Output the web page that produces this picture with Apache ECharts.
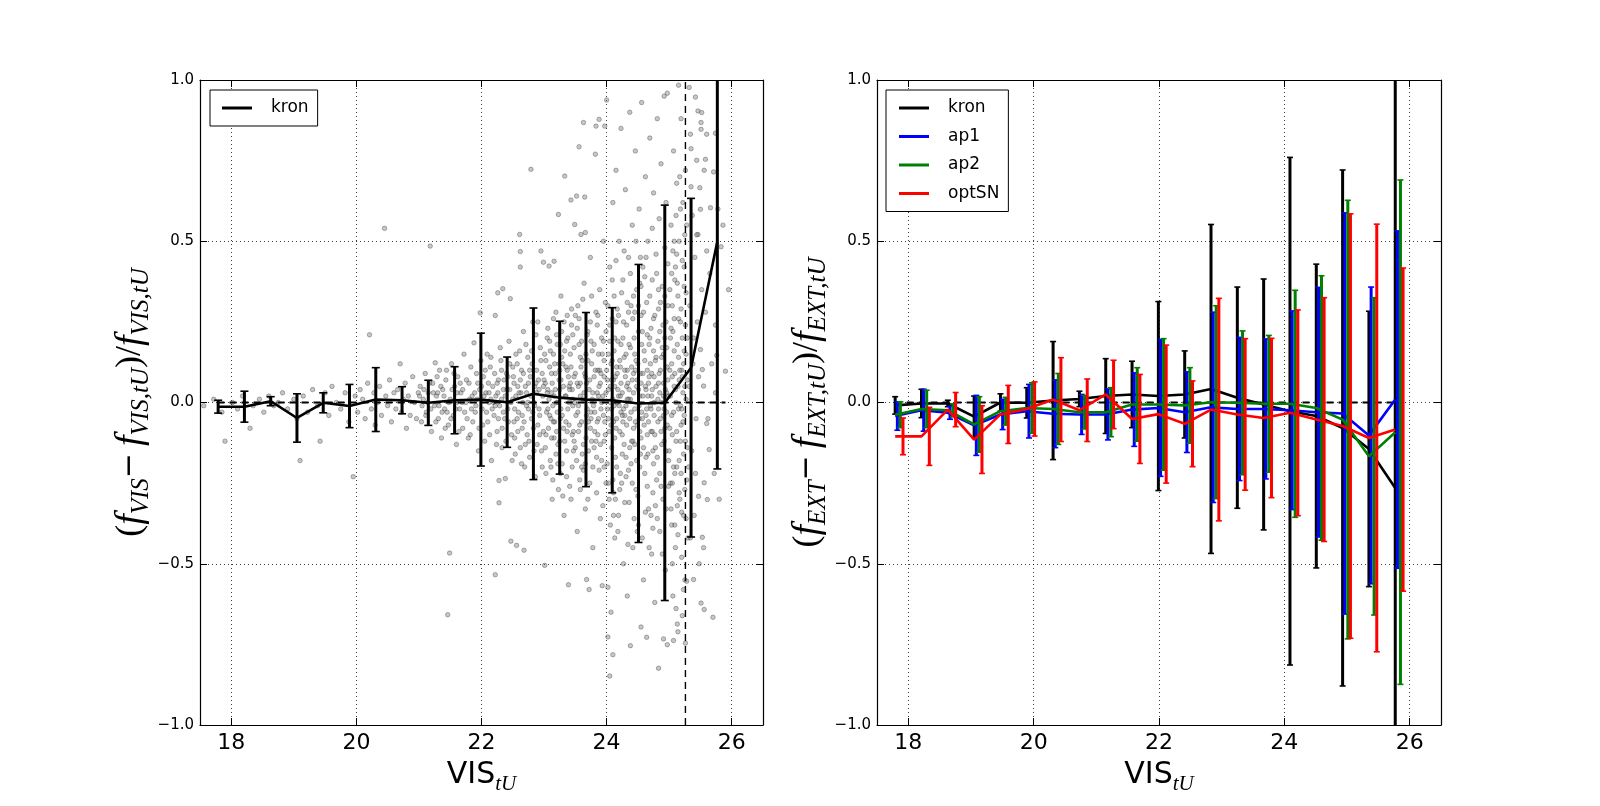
<!DOCTYPE html>
<html>
<head>
<meta charset="utf-8">
<script src="https://cdn.jsdelivr.net/npm/echarts@6/dist/echarts.min.js"></script>
<style>
  html, body { margin: 0; padding: 0; background: #fff; }
  #main { width: 1600px; height: 806px; }
</style>
</head>
<body>
<div id="main"></div>
<script>
// bin centres (VIS_tU magnitude)
const binX = [17.79, 18.21, 18.63, 19.05, 19.47, 19.89, 20.31, 20.73, 21.15, 21.57,
  21.99, 22.41, 22.83, 23.25, 23.67, 24.09, 24.51, 24.93, 25.35, 25.77];

// left panel: VIS kron
const visMean = [-0.013, -0.013, 0.004, -0.048, -0.001, -0.011, 0.009, 0.007, -0.001, 0.007,
  0.009, 0.001, 0.027, 0.015, 0.009, 0.007, -0.003, -0.001, 0.108, 0.499];
const visErr = [0.02, 0.048, 0.014, 0.075, 0.031, 0.067, 0.099, 0.042, 0.07, 0.104,
  0.206, 0.14, 0.266, 0.237, 0.27, 0.287, 0.431, 0.613, 0.525, 0.705];

// right panel: EXT
const kronMean = [-0.009, -0.003, -0.003, -0.044, 0.0, -0.001, 0.006, 0.011, 0.02, 0.025,
  0.02, 0.025, 0.042, 0.015, -0.006, -0.027, -0.042, -0.079, -0.144, -0.265];
const kronErr = [0.027, 0.044, 0.01, 0.064, 0.027, 0.047, 0.183, 0.024, 0.116, 0.103,
  0.293, 0.135, 0.51, 0.343, 0.389, 0.787, 0.471, 0.8, 0.427, 1.3];
const ap1Mean = [-0.042, -0.024, -0.032, -0.071, -0.037, -0.027, -0.035, -0.037, -0.037, -0.022,
  -0.017, -0.03, -0.015, -0.02, -0.02, -0.024, -0.03, -0.034, -0.102, 0.009];
const ap1Err = [0.044, 0.065, 0.02, 0.093, 0.047, 0.083, 0.105, 0.062, 0.079, 0.114,
  0.212, 0.125, 0.295, 0.222, 0.217, 0.308, 0.387, 0.622, 0.46, 0.523];
const ap2Mean = [-0.038, -0.02, -0.024, -0.068, -0.027, -0.017, -0.02, -0.03, -0.03, -0.006,
  -0.006, -0.009, 0.001, -0.001, -0.004, -0.004, -0.017, -0.053, -0.167, -0.092];
const ap2Err = [0.04, 0.058, 0.02, 0.086, 0.043, 0.078, 0.11, 0.052, 0.076, 0.114,
  0.204, 0.117, 0.299, 0.223, 0.212, 0.352, 0.41, 0.68, 0.492, 0.782];
const optMean = [-0.105, -0.105, -0.022, -0.115, -0.037, -0.02, 0.009, -0.024, 0.025, -0.051,
  -0.036, -0.066, -0.022, -0.037, -0.048, -0.032, -0.053, -0.073, -0.11, -0.084];
const optErr = [0.057, 0.09, 0.053, 0.105, 0.09, 0.084, 0.13, 0.097, 0.106, 0.138,
  0.214, 0.133, 0.345, 0.235, 0.247, 0.319, 0.378, 0.658, 0.663, 0.501];

const xTicks = [18, 20, 22, 24, 26];
const zeroLineX = [17.78, 25.9];
const cutMag = 25.26;

// individual objects (outskirts)
const visScatter = [
  [17.56,-0.01],[17.72,0.01],[17.85,-0.03],[17.9,-0.12],[18.02,0.0],[18.1,-0.02],[18.18,0.02],[18.3,-0.08],
  [18.35,-0.01],[18.45,0.01],[18.52,-0.03],[18.6,0.02],[18.68,-0.01],[18.75,0.0],[18.82,0.03],[18.9,-0.02],
  [19.0,0.01],[19.05,-0.05],[19.1,-0.18],[19.15,0.02],[19.22,-0.03],[19.3,0.04],[19.38,-0.01],[19.42,-0.12],
  [19.5,0.03],[19.56,-0.04],[19.61,0.05],[19.68,0.0],[19.75,-0.02],[19.82,0.03],[19.88,-0.06],[19.95,-0.23],[19.98,0.02],
  [20.02,-0.03],[20.06,0.04],[20.1,0.01],[20.14,-0.05],[20.18,0.06],[20.21,0.21],[20.24,-0.02],[20.28,0.03],
  [20.3,-0.07],[20.34,0.0],[20.37,0.05],[20.4,-0.04],[20.45,0.54],[20.47,0.02],[20.5,-0.01],[20.53,0.07],
  [20.56,-0.06],[20.6,0.03],[20.63,-0.02],[20.66,0.04],[20.7,0.12],[20.72,-0.03],[20.75,0.01],[20.78,0.06],
  [20.8,-0.08],[20.83,0.02],[20.86,-0.04],[20.9,0.08],[20.93,0.0],[20.96,-0.05],[20.99,0.03],
  [21.02,0.05],[21.04,-0.06],[21.07,0.01],[21.1,0.09],[21.12,-0.03],[21.15,0.03],[21.18,0.485],[21.2,-0.09],
  [21.22,0.06],[21.25,-0.01],[21.26,0.123],[21.28,0.02],[21.31,-0.05],[21.33,0.1],[21.36,-0.11],[21.38,0.04],
  [21.41,-0.02],[21.43,0.07],[21.46,-0.658],[21.47,-0.07],[21.49,-0.467],[21.5,0.01],[21.52,0.12],[21.55,-0.04],
  [21.57,0.05],[21.6,-0.13],[21.62,0.08],[21.65,-0.02],[21.67,0.03],[21.7,-0.08],[21.72,0.15],[21.75,0.0],
  [21.77,-0.05],[21.8,0.06],[21.82,-0.1],[21.85,0.02],[21.88,0.185],[21.9,-0.03],[21.92,0.09],[21.95,-0.15],
  [21.97,0.04],[21.98,0.278],[21.3,0.03],[21.45,-0.03],[21.6,0.0],[21.7,0.04],[21.84,-0.02],[21.93,0.01],
  [22.01,-0.02],[22.03,0.08],[22.05,-0.12],[22.07,0.03],[22.09,0.15],[22.1,-0.06],[22.12,0.0],[22.14,0.11],
  [22.16,-0.18],[22.18,0.05],[22.2,-0.04],[22.22,0.27],[22.22,-0.534],[22.23,0.02],[22.25,-0.09],[22.26,0.34],
  [22.27,0.07],[22.28,-0.311],[22.28,-0.242],[22.29,-0.01],[22.31,0.13],[22.33,-0.14],[22.34,0.353],[22.35,0.04],
  [22.37,-0.05],[22.38,-0.236],[22.4,0.09],[22.42,-0.02],[22.44,0.19],[22.46,0.322],[22.47,-0.43],[22.48,-0.1],
  [22.5,0.01],[22.52,0.06],[22.54,-0.16],[22.56,-0.443],[22.57,0.12],[22.59,-0.03],[22.61,0.521],[22.62,0.468],
  [22.62,0.42],[22.63,0.03],[22.65,-0.08],[22.67,0.22],[22.68,-0.458],[22.69,-0.2],[22.7,0.05],[22.72,-0.01],
  [22.74,0.14],[22.76,-0.12],[22.78,0.08],[22.79,0.723],[22.8,-0.05],[22.82,0.25],[22.84,0.0],[22.86,-0.23],
  [22.88,0.1],[22.9,-0.07],[22.92,0.04],[22.94,0.17],[22.95,0.47],[22.96,-0.15],[22.98,0.02],[22.99,0.435],
  [22.15,0.01],[22.35,-0.03],[22.55,0.02],[22.75,-0.02],[22.45,0.04],[22.65,-0.04],[22.85,0.05],[22.25,0.06],
  [23.01,-0.505],[23.02,0.06],[23.03,-0.1],[23.05,0.2],[23.06,-0.02],[23.08,0.423],[23.09,0.11],[23.1,-0.18],
  [23.12,0.03],[23.13,-0.3],[23.15,0.15],[23.16,0.438],[23.17,-0.06],[23.19,0.28],[23.2,0.0],[23.22,-0.13],
  [23.23,0.583],[23.24,0.07],[23.26,-0.22],[23.27,0.33],[23.29,-0.04],[23.3,0.12],[23.32,-0.35],[23.33,0.702],
  [23.34,0.02],[23.36,0.19],[23.37,-0.09],[23.39,-0.565],[23.4,0.05],[23.41,-0.26],[23.43,0.628],[23.44,0.24],
  [23.46,-0.01],[23.47,-0.15],[23.49,0.552],[23.5,0.09],[23.52,0.64],[23.53,-0.4],[23.54,0.3],[23.56,0.793],
  [23.57,-0.07],[23.58,0.14],[23.59,0.521],[23.6,-0.2],[23.62,0.01],[23.63,0.868],[23.64,0.37],[23.65,0.637],
  [23.66,0.527],[23.67,-0.11],[23.68,-0.549],[23.69,0.21],[23.7,-0.3],[23.72,-0.58],[23.72,0.04],[23.74,0.45],
  [23.75,-0.03],[23.77,0.16],[23.78,-0.45],[23.8,0.08],[23.82,0.77],[23.83,0.857],[23.84,-0.17],[23.86,0.27],
  [23.87,-0.05],[23.88,0.878],[23.89,0.1],[23.9,-0.36],[23.92,0.2],[23.93,-0.568],[23.94,0.02],[23.95,0.5],
  [23.96,-0.12],[23.97,0.857],[23.98,0.31],[23.99,-0.25],[24.0,0.938],
  [24.01,-0.02],[24.02,-0.573],[24.02,-0.727],[24.03,0.15],[24.04,-0.3],[24.05,-0.848],[24.05,0.42],[24.06,0.05],
  [24.07,-0.65],[24.08,-0.14],[24.09,0.26],[24.1,-0.782],[24.1,0.62],[24.11,-0.06],[24.12,0.33],[24.13,-0.42],
  [24.14,0.08],[24.15,0.72],[24.16,-0.2],[24.17,0.0],[24.18,0.19],[24.19,-0.35],[24.2,0.5],[24.21,-0.09],
  [24.22,0.11],[24.23,0.85],[24.24,-0.25],[24.25,0.03],[24.26,0.38],[24.27,-0.5],[24.28,0.14],[24.29,-0.04],
  [24.3,0.66],[24.31,-0.17],[24.32,0.24],[24.33,-0.6],[24.34,0.06],[24.35,0.45],[24.36,-0.31],[24.37,0.9],
  [24.38,-0.754],[24.38,0.01],[24.39,0.3],[24.4,-0.12],[24.41,0.55],[24.42,-0.45],[24.43,0.09],[24.44,0.2],
  [24.45,-0.02],[24.46,0.78],[24.47,-0.27],[24.48,0.35],[24.49,-0.07],[24.5,0.12],[24.51,-0.38],[24.52,0.6],
  [24.53,0.02],[24.54,-0.16],[24.55,-0.696],[24.55,0.27],[24.56,0.93],[24.57,-0.05],[24.58,0.42],[24.59,-0.55],
  [24.6,0.16],[24.61,-0.22],[24.62,0.7],[24.63,0.04],[24.64,-0.728],[24.64,0.31],[24.65,-0.1],[24.66,0.5],
  [24.67,-0.33],[24.68,0.08],[24.69,0.82],[24.7,-0.01],[24.71,0.23],[24.72,-0.47],[24.73,0.38],[24.74,-0.15],
  [24.75,0.65],[24.76,0.0],[24.77,-0.62],[24.78,0.13],[24.79,0.46],[24.8,-0.24],[24.81,0.88],[24.82,-0.06],
  [24.83,-0.824],[24.83,0.29],[24.84,0.57],[24.85,-0.4],[24.86,0.1],[24.87,0.74],[24.88,-0.13],[24.89,0.36],
  [24.9,-0.3],[24.91,-0.733],[24.91,0.02],[24.92,0.95],[24.93,0.2],[24.94,-0.52],[24.95,0.62],[24.96,-0.03],
  [24.97,0.959],[24.97,-0.751],[24.98,0.43],[24.99,-0.18],
  [25.01,0.1],[25.02,-0.25],[25.03,0.55],[25.04,-0.04],[25.05,0.3],[25.06,-0.6],[25.07,-0.738],[25.07,0.78],
  [25.08,0.05],[25.09,-0.38],[25.1,0.42],[25.11,-0.639],[25.11,-0.12],[25.12,0.68],[25.13,-0.687],[25.13,0.18],
  [25.14,-0.711],[25.15,0.984],[25.15,-0.02],[25.16,0.5],[25.17,-0.3],[25.18,0.25],[25.19,0.88],[25.2,-0.48],
  [25.21,-0.661],[25.21,0.08],[25.22,0.62],[25.23,-0.16],[25.24,0.36],[25.25,-0.55],[25.26,-0.746],[25.26,0.72],
  [25.27,0.01],[25.28,-0.554],[25.29,0.2],
  [25.32,0.977],[25.34,0.832],[25.35,0.787],[25.35,0.669],[25.39,-0.549],[25.42,0.947],[25.44,0.751],[25.46,0.904],
  [25.46,0.521],[25.47,-0.291],[25.49,0.666],[25.5,0.599],[25.5,0.164],[25.51,0.868],[25.51,0.847],[25.51,-0.622],
  [25.52,0.899],[25.53,-0.418],[25.53,0.102],[25.55,0.051],[25.56,0.72],[25.56,-0.249],[25.56,-0.642],[25.58,0.754],
  [25.6,0.832],[25.6,0.47],[25.6,-0.065],[25.61,-0.301],[25.64,-0.146],[25.66,0.604],[25.7,-0.666],[25.71,0.715],
  [25.72,-0.22],[25.74,0.835],[25.74,0.24],[25.74,0.03],[25.76,0.146],[25.83,0.483],[25.86,0.55],[25.9,0.097],
  [25.33,0.3],[25.36,-0.15],[25.38,0.12],[25.4,-0.35],[25.41,0.45],[25.43,-0.05],[25.45,0.25],[25.48,-0.5],
  [25.37,0.58],[25.31,-0.2],
  [25.32,0.05],[25.34,-0.42],[25.39,0.2],[25.42,-0.22],[25.44,0.52],[25.47,0.08],[25.52,0.35],[25.55,-0.45],
  [25.58,0.28],[25.62,-0.05],[25.65,0.4],[25.68,0.12],[25.78,0.6],[25.8,-0.3],[25.95,0.35]
];

// objects in the crowded core of the cloud, read by eye
const visCore = [
  [21.01,0.02],[21.05,-0.01],[21.08,0.04],[21.11,-0.04],[21.14,0.0],[21.17,0.06],[21.19,-0.02],[21.23,0.03],
  [21.27,-0.06],[21.29,0.08],[21.32,-0.01],[21.35,0.05],[21.37,-0.03],[21.4,0.02],[21.42,-0.08],[21.44,0.1],
  [21.48,0.0],[21.51,-0.05],[21.53,0.04],[21.56,0.09],[21.59,-0.02],[21.61,0.03],[21.64,-0.09],[21.66,0.06],
  [21.69,0.0],[21.73,-0.03],[21.76,0.07],[21.79,-0.11],[21.81,0.01],[21.83,0.11],[21.86,-0.06],[21.89,0.03],
  [21.91,-0.01],[21.94,0.06],[21.96,-0.08],[21.99,0.13],
  [22.0,0.05],[22.02,-0.07],[22.04,0.02],[22.06,0.1],[22.08,-0.03],[22.11,0.06],[22.13,-0.1],[22.15,0.14],
  [22.17,-0.02],[22.19,0.0],[22.21,0.09],[22.24,-0.13],[22.26,0.03],[22.27,-0.05],[22.3,0.17],[22.32,0.01],
  [22.33,-0.08],[22.36,0.07],[22.39,-0.12],[22.41,0.04],[22.43,-0.06],[22.45,0.12],[22.47,0.0],[22.49,-0.18],
  [22.51,0.08],[22.53,-0.02],[22.55,0.15],[22.58,-0.09],[22.6,0.03],[22.62,-0.14],[22.64,0.1],[22.66,0.0],
  [22.68,-0.06],[22.71,0.18],[22.73,-0.1],[22.75,0.06],[22.77,-0.17],[22.79,0.02],[22.81,0.12],[22.83,-0.08],
  [22.85,-0.01],[22.87,0.21],[22.89,-0.13],[22.91,0.07],[22.93,-0.04],[22.95,0.13],[22.97,-0.2],[22.99,0.05],
  [22.12,0.03],[22.38,0.02],[22.58,0.05],[22.72,0.03],[22.92,-0.02],[22.22,-0.01],[22.42,0.08],[22.62,0.07],
  [22.82,-0.03],[22.52,-0.06],[22.32,0.1],[22.88,0.03],
  [22.5,0.11],[22.53,-0.11],[22.57,-0.05],[22.61,0.16],[22.64,-0.19],[22.67,0.09],[22.7,-0.13],[22.74,0.0],
  [22.77,0.1],[22.8,0.16],[22.84,-0.15],[22.87,0.06],[22.9,0.25],[22.93,-0.1],[22.97,0.09],[22.99,-0.09],
  [23.0,0.07],[23.02,-0.14],[23.03,0.13],[23.04,-0.03],[23.06,0.23],[23.07,-0.08],[23.08,0.01],[23.1,0.16],
  [23.11,-0.2],[23.12,0.09],[23.14,-0.01],[23.15,0.26],[23.16,-0.11],[23.18,0.04],[23.19,-0.16],[23.21,0.18],
  [23.22,0.0],[23.23,-0.27],[23.25,0.1],[23.26,-0.05],[23.28,0.14],[23.29,-0.19],[23.31,0.05],[23.32,0.25],
  [23.33,-0.12],[23.35,0.02],[23.36,-0.23],[23.38,0.2],[23.39,0.08],[23.4,-0.07],[23.42,0.15],[23.43,-0.3],
  [23.45,0.04],[23.46,0.21],[23.48,-0.12],[23.49,0.0],[23.5,0.27],[23.52,-0.18],[23.53,0.06],[23.55,-0.01],
  [23.56,0.18],[23.57,-0.24],[23.59,0.11],[23.6,-0.06],[23.62,0.32],[23.63,-0.13],[23.64,0.03],[23.66,-0.33],
  [23.67,0.15],[23.69,-0.02],[23.7,0.22],[23.71,-0.15],[23.73,0.07],[23.74,-0.08],[23.76,0.33],[23.77,0.01],
  [23.78,-0.2],[23.8,0.18],[23.81,-0.03],[23.82,0.1],[23.84,-0.28],[23.85,0.24],[23.86,-0.1],[23.88,0.05],
  [23.89,0.35],[23.9,-0.13],[23.92,0.0],[23.93,0.15],[23.94,-0.32],[23.96,0.08],[23.97,-0.06],[23.99,0.22],
  [23.13,0.06],[23.27,-0.02],[23.41,0.04],[23.54,-0.03],[23.68,0.06],[23.79,-0.01],[23.91,0.09],[23.24,0.12],
  [23.47,-0.09],[23.61,0.13],[23.75,-0.05],[23.87,0.02],[23.09,-0.04],[23.37,0.1],[23.58,0.02],[23.83,-0.12],
  [23.95,-0.04],[23.2,-0.09],
  [23.05,0.03],[23.11,-0.05],[23.18,0.09],[23.21,-0.03],[23.25,0.04],[23.31,-0.08],[23.35,0.11],[23.38,-0.02],
  [23.42,0.06],[23.45,-0.1],[23.48,0.17],[23.51,-0.04],[23.55,0.05],[23.61,-0.16],[23.66,0.08],[23.71,-0.06],
  [23.76,0.12],[23.81,-0.09],[23.85,0.03],[23.91,-0.02],[23.96,0.13],[23.28,0.22],[23.58,-0.27],[23.88,-0.21],
  [23.14,-0.24],[23.44,0.29],[23.74,0.25],
  [23.01,0.15],[23.03,-0.22],[23.06,0.04],[23.09,0.19],[23.12,-0.11],[23.15,-0.06],[23.17,0.12],[23.2,0.21],
  [23.22,-0.19],[23.25,-0.12],[23.27,0.07],[23.3,-0.29],[23.33,0.16],[23.35,-0.06],[23.37,0.27],[23.4,0.0],
  [23.43,0.11],[23.45,-0.2],[23.48,0.08],[23.5,-0.14],[23.53,0.23],[23.55,-0.09],[23.58,0.06],[23.6,0.19],
  [23.63,-0.21],[23.65,0.09],[23.68,-0.04],[23.7,0.13],[23.73,-0.25],[23.75,0.19],[23.78,0.03],[23.8,-0.14],
  [23.83,0.28],[23.85,-0.06],[23.87,0.15],[23.9,0.06],[23.92,-0.18],[23.95,0.19],[23.98,-0.1],[23.99,0.03],
  [23.16,0.02],[23.36,-0.15],[23.56,0.26],[23.76,-0.12],[23.96,-0.2],[23.26,0.18],[23.46,0.01],[23.66,-0.19],
  [23.86,0.1],
  [24.0,0.1],[24.01,-0.19],[24.02,0.3],[24.03,0.04],[24.04,-0.09],[24.05,0.19],[24.06,-0.38],[24.07,0.12],
  [24.08,-0.02],[24.09,0.38],[24.1,0.01],[24.11,-0.28],[24.12,0.16],[24.13,0.05],[24.14,-0.17],[24.15,0.44],
  [24.16,-0.05],[24.17,0.09],[24.18,-0.4],[24.19,0.27],[24.2,-0.01],[24.21,0.13],[24.22,-0.22],[24.23,0.06],
  [24.24,0.34],[24.25,-0.1],[24.26,0.2],[24.27,-0.02],[24.28,0.47],[24.29,-0.31],[24.3,0.08],[24.31,0.15],
  [24.32,-0.07],[24.33,0.31],[24.34,-0.44],[24.35,0.01],[24.36,0.18],[24.37,-0.14],[24.38,0.4],[24.39,-0.03],
  [24.4,0.11],[24.41,-0.25],[24.42,0.26],[24.43,0.03],[24.44,-0.36],[24.45,0.15],[24.46,-0.06],[24.47,0.5],
  [24.48,-0.18],[24.49,0.07],[24.5,-0.29],[24.51,0.22],[24.52,-0.01],[24.53,0.37],[24.54,0.09],[24.55,-0.11],
  [24.56,0.18],[24.57,-0.42],[24.58,0.02],[24.59,0.28],[24.6,-0.07],[24.61,0.13],[24.62,-0.34],[24.63,0.45],
  [24.64,-0.02],[24.65,0.21],[24.66,-0.16],[24.67,0.06],[24.68,-0.45],[24.69,0.33],[24.7,0.12],[24.71,-0.09],
  [24.72,0.02],[24.73,0.54],[24.74,-0.28],[24.75,0.16],[24.76,-0.04],[24.77,0.27],[24.78,-0.14],[24.79,0.05],
  [24.8,0.4],[24.81,-0.36],[24.82,0.19],[24.83,-0.02],[24.84,0.09],[24.85,-0.22],[24.86,0.31],[24.87,-0.09],
  [24.88,0.0],[24.89,-0.47],[24.9,0.24],[24.91,0.15],[24.92,-0.12],[24.93,0.48],[24.94,0.04],[24.95,-0.33],
  [24.96,0.17],[24.97,-0.07],[24.98,0.3],[24.99,-0.26],
  [24.06,0.0],[24.16,0.11],[24.26,-0.06],[24.36,0.04],[24.46,0.1],[24.56,-0.03],[24.66,0.02],[24.76,0.08],
  [24.86,-0.05],[24.96,0.03],[24.11,0.07],[24.31,-0.01],[24.51,0.04],[24.71,-0.02],[24.91,0.06],
  [24.03,-0.05],[24.08,0.07],[24.13,-0.11],[24.18,0.04],[24.23,-0.03],[24.28,-0.13],[24.33,0.1],[24.38,0.17],
  [24.43,-0.08],[24.48,0.05],[24.53,-0.2],[24.58,0.09],[24.63,-0.04],[24.68,0.18],[24.73,-0.09],[24.78,-0.32],
  [24.83,0.06],[24.88,0.14],[24.93,-0.08],[24.98,0.07],[24.15,0.25],[24.35,-0.21],[24.55,0.36],[24.75,-0.19],
  [24.95,0.25],[24.25,-0.16],[24.45,0.28],[24.65,-0.26],[24.85,0.22],[24.1,-0.24],
  [24.01,0.07],[24.03,-0.25],[24.05,0.24],[24.07,-0.07],[24.09,0.13],[24.11,-0.35],[24.13,0.2],[24.15,-0.08],
  [24.17,0.29],[24.19,0.02],[24.21,-0.27],[24.23,0.18],[24.25,-0.04],[24.27,0.25],[24.29,0.1],[24.31,-0.23],
  [24.33,0.01],[24.35,0.28],[24.37,-0.05],[24.39,-0.19],[24.41,0.07],[24.43,0.33],[24.45,-0.13],[24.47,0.13],
  [24.49,-0.4],[24.51,0.3],[24.53,-0.09],[24.55,0.06],[24.57,0.22],[24.59,-0.14],[24.61,0.39],[24.63,-0.17],
  [24.65,0.1],[24.67,-0.06],[24.69,0.2],[24.71,-0.35],[24.73,0.04],[24.75,0.26],[24.77,-0.1],[24.79,0.14],
  [24.81,-0.17],[24.83,0.35],[24.85,0.03],[24.87,-0.26],[24.89,0.17],[24.91,-0.04],[24.93,0.33],[24.95,-0.15],
  [24.97,0.11],[24.99,0.02],[24.12,-0.01],[24.32,0.05],[24.52,-0.05],[24.72,0.09],[24.92,-0.02],[24.22,0.02],
  [24.42,-0.12],[24.62,0.05],[24.82,0.01],[24.14,-0.3],[24.54,0.45],[24.74,-0.39],
  [25.0,-0.15],[25.01,0.35],[25.03,-0.33],[25.04,0.12],[25.05,-0.5],[25.06,0.47],[25.07,-0.03],[25.08,0.26],
  [25.09,-0.22],[25.1,0.04],[25.11,0.58],[25.12,-0.09],[25.13,0.37],[25.14,-0.41],[25.15,0.14],[25.16,-0.18],
  [25.17,0.7],[25.18,-0.01],[25.19,0.29],[25.2,-0.34],[25.21,0.44],[25.22,0.03],[25.23,-0.58],[25.24,0.16],
  [25.25,0.52],[25.26,-0.12],[25.27,0.34],[25.28,-0.24],[25.29,0.07],[25.3,-0.42],
  [25.02,0.2],[25.09,0.09],[25.16,-0.28],[25.24,-0.04],[25.12,0.46],[25.2,0.1],[25.28,0.55],[25.05,-0.25],
  [25.18,-0.12],[25.26,0.24],
  [25.02,0.02],[25.05,-0.1],[25.08,0.16],[25.12,-0.2],[25.16,0.07],[25.19,-0.07],[25.23,0.12],[25.25,-0.27],
  [25.04,0.4],[25.1,-0.45],[25.18,0.6],[25.22,-0.06],[25.06,0.22],[25.14,0.33],[25.27,-0.36],
  [25.01,-0.08],[25.03,0.23],[25.05,0.08],[25.07,-0.2],[25.09,0.38],[25.11,0.0],[25.13,-0.32],[25.15,0.26],
  [25.17,0.1],[25.19,-0.22],[25.21,0.2],[25.23,-0.35],[25.25,0.05],[25.27,0.15],[25.29,-0.14],[25.04,-0.38],
  [25.14,0.05],[25.24,0.42],[25.08,0.5],[25.2,-0.02]
];

const chart = echarts.init(document.getElementById('main'), null, {renderer: 'canvas'});

const gridLine = {show: true, lineStyle: {color: '#000', width: 1, type: [1, 3], opacity: 0.75}};

function yFmt(v) {
  return (v < 0 ? '\u2212' : '') + Math.abs(v).toFixed(1);
}

const serif = 'Liberation Serif';
function labelRich() {
  return {
    p: {fontFamily: serif, fontSize: 36, lineHeight: 46, color: '#000'},
    f: {fontFamily: serif, fontStyle: 'italic', fontSize: 38, lineHeight: 46, color: '#000'},
    s: {fontFamily: serif, fontStyle: 'italic', fontSize: 25, lineHeight: 26, verticalAlign: 'bottom', color: '#000'},
    m: {fontFamily: 'DejaVu Sans', fontSize: 30, lineHeight: 46, color: '#000', padding: [0, 7, 0, 0]},
    a: {fontFamily: 'DejaVu Sans', fontSize: 30, lineHeight: 40, color: '#000'},
    b: {fontFamily: serif, fontStyle: 'italic', fontSize: 21, lineHeight: 22, verticalAlign: 'bottom', color: '#000'}
  };
}

function bottomAxis(g) {
  return {
    gridIndex: g, type: 'value', min: 17.5, max: 26.5, position: 'bottom',
    axisLine: {show: true, onZero: false, lineStyle: {color: '#000', width: 1.2}},
    axisTick: {show: true, inside: true, length: 7, customValues: xTicks, lineStyle: {color: '#000'}},
    axisLabel: {customValues: xTicks, fontSize: 22, color: '#000', fontFamily: 'DejaVu Sans', margin: 7},
    splitLine: gridLine,
    name: '{a|VIS}{b|tU}', nameLocation: 'middle', nameGap: 30,
    nameTextStyle: {rich: labelRich()}
  };
}
function topAxis(g) {
  return {
    gridIndex: g, type: 'value', min: 17.5, max: 26.5, position: 'top',
    axisLine: {show: true, onZero: false, lineStyle: {color: '#000', width: 1.2}},
    axisTick: {show: true, inside: true, length: 7, customValues: xTicks, lineStyle: {color: '#000'}},
    axisLabel: {show: false}, splitLine: {show: false}
  };
}
function leftAxis(g, tag) {
  return {
    gridIndex: g, type: 'value', min: -1, max: 1, interval: 0.5, position: 'left',
    axisLine: {show: true, onZero: false, lineStyle: {color: '#000', width: 1.2}},
    axisTick: {show: true, inside: true, length: 7, lineStyle: {color: '#000'}},
    axisLabel: {formatter: yFmt, fontSize: 15, color: '#000', fontFamily: 'DejaVu Sans', margin: 6},
    splitLine: gridLine,
    name: '{p|(}{f|f}{s|' + tag + '}{m|\u2212}{f|f}{s|' + tag + ',tU}{p|)/}{f|f}{s|' + tag + ',tU}',
    nameLocation: 'middle', nameRotate: 90, nameGap: 44,
    nameTextStyle: {rich: labelRich()}
  };
}
function rightAxis(g) {
  return {
    gridIndex: g, type: 'value', min: -1, max: 1, interval: 0.5, position: 'right',
    axisLine: {show: true, onZero: false, lineStyle: {color: '#000', width: 1.2}},
    axisTick: {show: true, inside: true, length: 7, lineStyle: {color: '#000'}},
    axisLabel: {show: false}, splitLine: {show: false}
  };
}

// vertical error bars with caps, drawn through the axis scales
function errorBars(name, gi, means, errs, color, dx, cap, z) {
  return {
    type: 'custom', name: name, xAxisIndex: gi, yAxisIndex: gi, clip: true, z: z, silent: true,
    data: binX.map((x, i) => [x, means[i], errs[i]]),
    renderItem: function (params, api) {
      const x = api.value(0) + dx;
      const m = api.value(1), e = api.value(2);
      const top = api.coord([x, m + e]);
      const bot = api.coord([x, m - e]);
      return {
        type: 'group',
        children: [
          {type: 'line', shape: {x1: top[0], y1: top[1], x2: bot[0], y2: bot[1]}, style: {stroke: color, lineWidth: 3}},
          {type: 'line', shape: {x1: top[0] - cap, y1: top[1], x2: top[0] + cap, y2: top[1]}, style: {stroke: color, lineWidth: 1.6}},
          {type: 'line', shape: {x1: bot[0] - cap, y1: bot[1], x2: bot[0] + cap, y2: bot[1]}, style: {stroke: color, lineWidth: 1.6}}
        ]
      };
    }
  };
}

function meanLine(name, gi, means, color, z) {
  return {
    type: 'line', name: name, xAxisIndex: gi, yAxisIndex: gi, z: z,
    data: binX.map((x, i) => [x, means[i]]),
    symbol: 'none', lineStyle: {color: color, width: 2.6}, itemStyle: {color: color}
  };
}

function dashLine(gi, pts, width, dash, z) {
  return {
    type: 'line', xAxisIndex: gi, yAxisIndex: gi, z: z, silent: true, data: pts,
    symbol: 'none', lineStyle: {color: '#000', width: width, type: dash}
  };
}

const dotStyle = {color: 'rgba(115,115,115,0.5)', borderColor: 'rgba(45,45,45,0.55)', borderWidth: 0.8};
const legendText = {fontSize: 17, color: '#000', fontFamily: 'DejaVu Sans', padding: [0, 0, 0, 14], lineHeight: 20};

const option = {
  animation: false,
  backgroundColor: '#fff',
  grid: [
    {left: 200, top: 80, width: 563, height: 645},
    {left: 877, top: 80, width: 564, height: 645}
  ],
  legend: [
    {data: ['kron'], orient: 'vertical', left: 210, top: 90, icon: 'rect', itemWidth: 30, itemHeight: 3,
      itemGap: 8, padding: [8, 9, 8, 12], borderColor: '#000', borderWidth: 1, backgroundColor: '#fff',
      textStyle: legendText, selectedMode: false},
    {data: ['kron', 'ap1', 'ap2', 'optSN'], orient: 'vertical', left: 886, top: 90, icon: 'rect', itemWidth: 30, itemHeight: 3,
      itemGap: 8.5, padding: [8, 9, 8, 13], borderColor: '#000', borderWidth: 1, backgroundColor: '#fff',
      textStyle: legendText, selectedMode: false}
  ],
  xAxis: [bottomAxis(0), bottomAxis(1), topAxis(0), topAxis(1)],
  yAxis: [leftAxis(0, 'VIS'), leftAxis(1, 'EXT'), rightAxis(0), rightAxis(1)],
  series: [
    {
      type: 'scatter', name: 'objects', xAxisIndex: 0, yAxisIndex: 0, z: 1, silent: true,
      data: visScatter, symbolSize: 4.5, itemStyle: dotStyle
    },
    {
      type: 'scatter', name: 'objects core', xAxisIndex: 0, yAxisIndex: 0, z: 1, silent: true,
      data: visCore, symbolSize: 4.5, itemStyle: dotStyle
    },
    dashLine(0, zeroLineX.map(x => [x, 0]), 2, [7, 5], 2),
    dashLine(0, [[cutMag, -1], [cutMag, 1]], 1.4, [7, 5], 2),
    errorBars('kron err', 0, visMean, visErr, '#000', 0, 4, 3),
    meanLine('kron', 0, visMean, '#000', 4),

    dashLine(1, zeroLineX.map(x => [x, 0]), 2, [7, 5], 2),
    errorBars('kron err', 1, kronMean, kronErr, '#000', 0, 3, 3),
    meanLine('kron', 1, kronMean, '#000', 4),
    errorBars('ap1 err', 1, ap1Mean, ap1Err, '#0000ff', 0.035, 3, 5),
    meanLine('ap1', 1, ap1Mean, '#0000ff', 6),
    errorBars('ap2 err', 1, ap2Mean, ap2Err, '#008000', 0.083, 3, 7),
    meanLine('ap2', 1, ap2Mean, '#008000', 8),
    errorBars('optSN err', 1, optMean, optErr, '#ff0000', 0.125, 3, 9),
    meanLine('optSN', 1, optMean, '#ff0000', 10)
  ]
};

chart.setOption(option);
</script>
</body>
</html>
